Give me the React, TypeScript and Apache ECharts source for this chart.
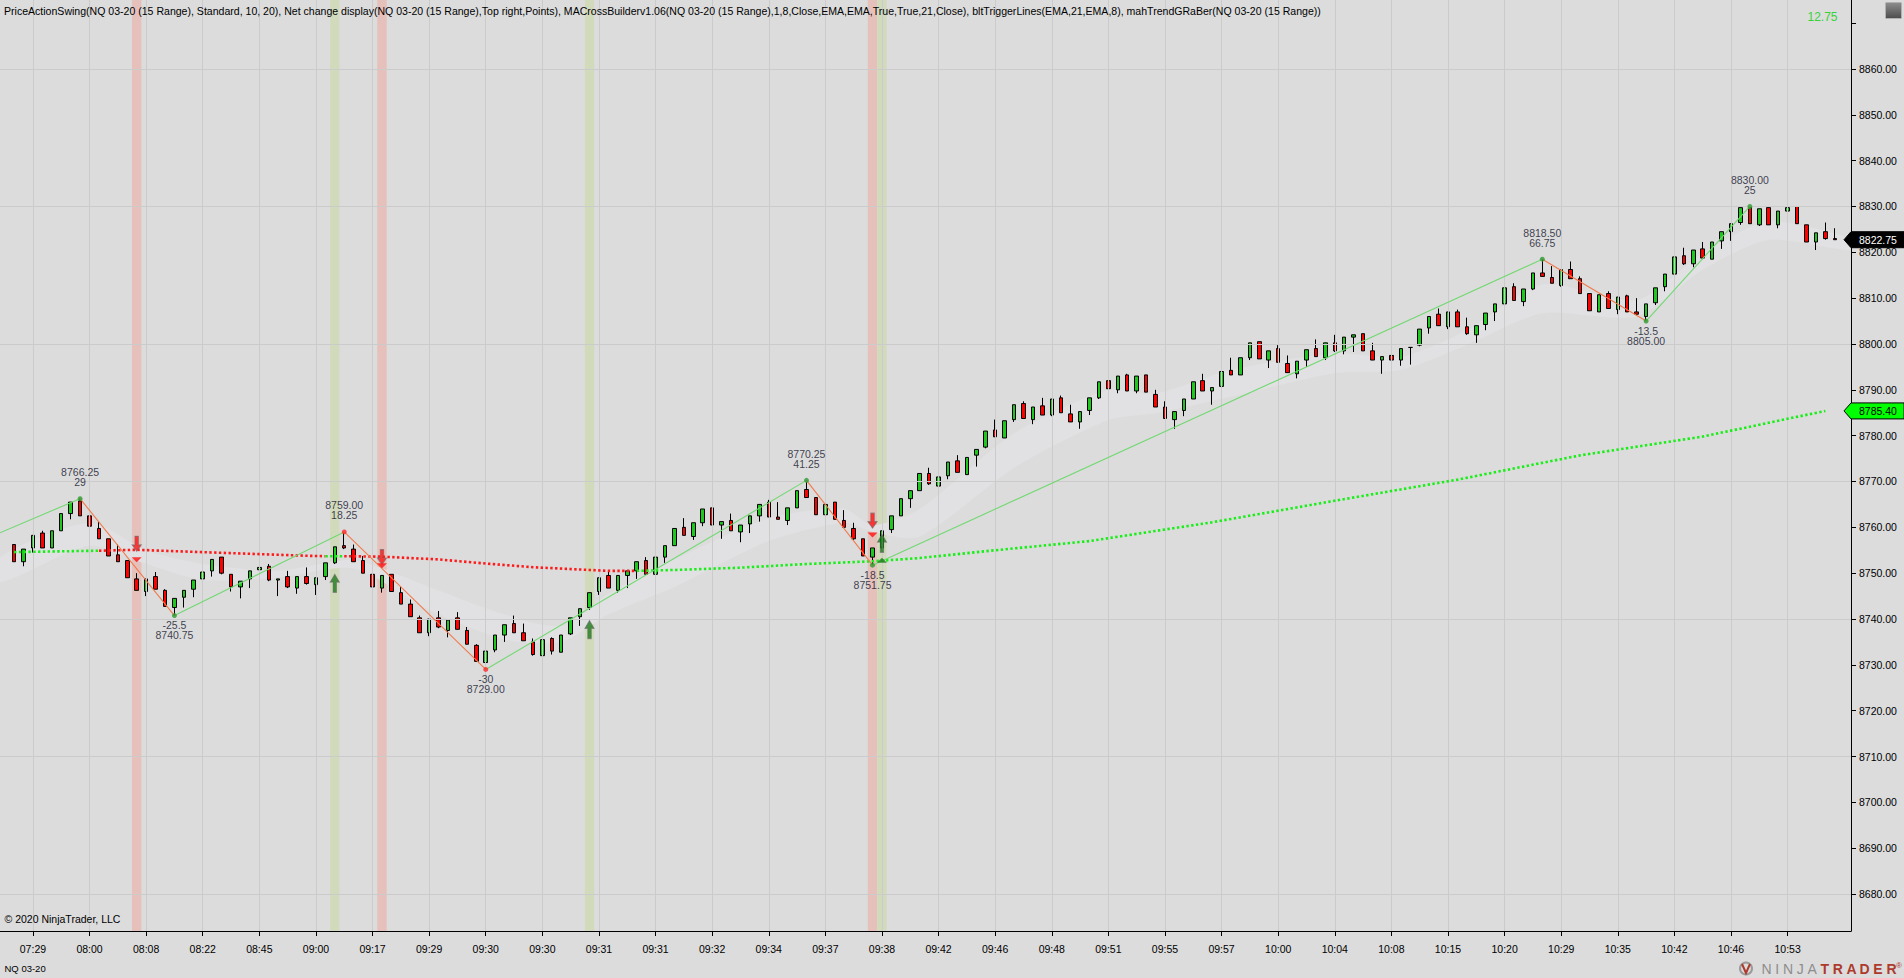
import React, { useEffect, useRef } from 'react';
import * as echarts from 'echarts';

const BG = '#dcdcdc';
const GRIDC = '#cbcbcb';
const FONT = '"Liberation Sans", Arial, Helvetica, sans-serif';

const TITLE =
  'PriceActionSwing(NQ 03-20 (15 Range), Standard, 10, 20), Net change display(NQ 03-20 (15 Range),Top right,Points), MACrossBuilderv1.06(NQ 03-20 (15 Range),1,8,Close,EMA,EMA,True,True,21,Close), bltTriggerLines(EMA,21,EMA,8), mahTrendGRaBer(NQ 03-20 (15 Range))';
const NET_CHANGE = '12.75';
const COPYRIGHT = '© 2020 NinjaTrader, LLC';
const INSTRUMENT = 'NQ 03-20';

// ---- 15-range candles (open, close, low, high) ----
const opens = [
  8756.25, 8752.5, 8755.5, 8758.75, 8755.5, 8759.25, 8763, 8765.75, 8762.5, 8759.75,
  8757.5, 8754, 8752.75, 8748.75, 8746, 8749.25, 8746.25, 8742.5, 8744.75, 8746.5,
  8748.75, 8750.5, 8753.5, 8749.75, 8747, 8748.75, 8750.75, 8751.5, 8748.5, 8749.25,
  8746.75, 8749.25, 8747.5, 8749.25, 8752.25, 8756, 8755.25, 8752.75, 8749.75, 8746.75,
  8749.75, 8745.75, 8743.25, 8740.25, 8737, 8740.25, 8737.5, 8740.25, 8737.5, 8734.25,
  8730.5, 8733.25, 8736.5, 8739, 8737, 8735, 8732, 8735.75, 8732.75, 8736.75,
  8740.5, 8742.5, 8746, 8749.5, 8746.25, 8749.5, 8750.5, 8752.75, 8749.75, 8753.5,
  8756, 8760, 8758, 8761, 8764.25, 8760.5, 8761.5, 8759, 8760.75, 8762.5,
  8765.5, 8762.25, 8761.5, 8764.25, 8768.25, 8766.5, 8762.75, 8765.5, 8761.5, 8759.75,
  8757.5, 8753.5, 8755.5, 8759.5, 8762.5, 8766.25, 8768, 8771.75, 8769, 8771.25,
  8774.5, 8771.5, 8775.75, 8777.5, 8781.25, 8779.5, 8783.5, 8787, 8783.5, 8786.5,
  8784.5, 8788.25, 8784.75, 8783, 8785.5, 8788.25, 8792, 8790, 8793.25, 8789.75,
  8793.25, 8789, 8786.25, 8783.5, 8785.5, 8788, 8792, 8789.75, 8790.75, 8794.25,
  8793.25, 8797, 8800.5, 8796.5, 8799, 8795.75, 8793.5, 8796.5, 8799, 8797,
  8800.25, 8798.5, 8801.5, 8802.25, 8798.5, 8796.5, 8797.5, 8796.5, 8799.25, 8799.75,
  8803.5, 8806.5, 8803.75, 8807, 8803.75, 8802, 8804.25, 8807, 8808.75, 8812.5,
  8809.25, 8812, 8815.5, 8814.5, 8812.75, 8816.25, 8814.25, 8811, 8807, 8811,
  8807.5, 8810.5, 8807, 8806, 8809, 8812.5, 8815.25, 8819.25, 8817.5, 8820.75,
  8818.5, 8822.5, 8824.5, 8826.5, 8830, 8826, 8829.75, 8826, 8829, 8830,
  8826, 8822.25, 8824.5, 8823,
];
const closes = [
  8752.5, 8755.25, 8758.25, 8755.5, 8759.25, 8763, 8765.5, 8762.5, 8760.25, 8757.5,
  8753.75, 8752.5, 8749, 8746.25, 8748.75, 8746.5, 8742.75, 8744.5, 8746.25, 8748.5,
  8750.25, 8753, 8750, 8747, 8748.25, 8750.5, 8751.25, 8748.5, 8748.75, 8747,
  8749.25, 8747.75, 8749, 8752.25, 8755.75, 8755.5, 8752.5, 8750, 8747, 8749.5,
  8746, 8743.25, 8740.5, 8737, 8740, 8738.25, 8739.75, 8737.75, 8734.5, 8730.75,
  8733, 8736.5, 8738.75, 8737, 8735.25, 8732.25, 8735.5, 8733, 8736.5, 8740.25,
  8742.25, 8745.75, 8749, 8746.75, 8749.5, 8750.5, 8752.5, 8749.75, 8753.5, 8756,
  8759.75, 8758.25, 8761, 8764, 8760.5, 8761.25, 8759.25, 8760.5, 8762.5, 8765,
  8762.25, 8761.75, 8764.25, 8768, 8766.5, 8762.75, 8765, 8761.75, 8760, 8757.5,
  8753.75, 8755.5, 8759.25, 8762.5, 8766.25, 8768, 8771.75, 8769.5, 8771, 8774.25,
  8772, 8775.25, 8777, 8781, 8779.75, 8783.25, 8786.75, 8783.75, 8786.25, 8784.5,
  8788, 8785, 8783, 8785.25, 8788.25, 8791.75, 8790.25, 8793, 8789.75, 8793,
  8789.5, 8786.25, 8783.75, 8785.25, 8788, 8791.75, 8789.75, 8790.5, 8794, 8793.25,
  8797, 8800.25, 8796.75, 8798.5, 8796, 8793.75, 8796.25, 8798.75, 8797.25, 8800.25,
  8798.5, 8801.5, 8802, 8798.5, 8796.5, 8797.25, 8796.5, 8799, 8799.25, 8803.25,
  8806, 8804, 8807, 8803.75, 8802.25, 8804, 8806.75, 8808.75, 8812.25, 8809.5,
  8812, 8815.5, 8814.75, 8813.25, 8816.25, 8814.25, 8811, 8807.25, 8810.75, 8807.75,
  8810.25, 8807, 8806.5, 8808.75, 8812.25, 8815.25, 8819, 8817.5, 8820.5, 8818.75,
  8822.25, 8824.5, 8826.25, 8829.75, 8826.25, 8829.5, 8826, 8829, 8829.75, 8826.25,
  8822.25, 8824.25, 8823, 8822.75,
];
const lows = [
  8752.5, 8751.5, 8754.5, 8755.5, 8755.5, 8759.25, 8761.75, 8762.5, 8760.25, 8757.5,
  8753.75, 8752.5, 8749, 8746.25, 8745, 8746.5, 8742.75, 8740.75, 8742.5, 8744.75,
  8746.5, 8749.25, 8749.75, 8746, 8744.5, 8746.75, 8747.5, 8748.25, 8745, 8746.75,
  8745.5, 8747.5, 8745.25, 8748.5, 8752, 8755.25, 8752.5, 8750, 8746.25, 8745.75,
  8746, 8743.25, 8740.5, 8737, 8736.25, 8738, 8736, 8737.75, 8734.5, 8730.75,
  8729, 8732.75, 8735, 8737, 8735.25, 8732, 8731.75, 8732.25, 8732.75, 8736.5,
  8738.5, 8742, 8745.25, 8746.75, 8745.75, 8746.75, 8748.75, 8749.75, 8749.75, 8752.25,
  8756, 8758.25, 8757.25, 8760.25, 8760.5, 8757.5, 8759.25, 8756.75, 8758.75, 8761.25,
  8762.25, 8761.75, 8760.5, 8764.25, 8766.5, 8762.75, 8761.25, 8761.75, 8760, 8757.25,
  8753.75, 8751.75, 8755.5, 8758.75, 8762.5, 8764.25, 8768, 8769.25, 8767.25, 8770.5,
  8772, 8771.5, 8773.25, 8777.25, 8779.75, 8779.5, 8783, 8783.75, 8782.5, 8784.5,
  8784.25, 8785, 8783, 8781.5, 8784.5, 8788, 8790.25, 8789.25, 8789.75, 8789.25,
  8789.5, 8786.25, 8783.75, 8781.5, 8784.25, 8788, 8789.75, 8786.75, 8790.25, 8793.25,
  8793.25, 8796.5, 8796.75, 8794.75, 8796, 8793.75, 8792.5, 8795, 8797.25, 8796.5,
  8798.25, 8797.75, 8798.25, 8798.5, 8796.5, 8793.5, 8796.5, 8795.25, 8795.5, 8799.5,
  8802.25, 8804, 8803.25, 8803.75, 8802, 8800.25, 8803, 8805, 8808.5, 8809.5,
  8808.25, 8811.75, 8814.75, 8813.25, 8812.5, 8814.25, 8811, 8807.25, 8807, 8807.75,
  8806.5, 8807, 8806.25, 8805, 8808.5, 8811.5, 8815.25, 8817.25, 8816.75, 8818.5,
  8818.5, 8820.75, 8822.5, 8826, 8826.25, 8825.75, 8826, 8825.25, 8826, 8826.25,
  8822.25, 8820.5, 8822.75, 8822.75,
];
const highs = [
  8756.25, 8755.25, 8758.25, 8759.25, 8759.25, 8763, 8765.5, 8766.25, 8764, 8761.25,
  8757.5, 8756.25, 8752.75, 8750, 8748.75, 8750.25, 8746.5, 8744.5, 8746.25, 8748.5,
  8750.25, 8753, 8753.5, 8749.75, 8748.25, 8750.5, 8751.25, 8752, 8748.75, 8750.5,
  8749.25, 8751.25, 8749, 8752.25, 8755.75, 8759, 8756.25, 8753.75, 8750, 8749.5,
  8749.75, 8747, 8744.25, 8740.75, 8740, 8741.75, 8739.75, 8741.5, 8738.25, 8734.5,
  8733, 8736.5, 8738.75, 8740.75, 8739, 8735.75, 8735.5, 8736, 8736.5, 8740.25,
  8742.25, 8745.75, 8749, 8750.5, 8749.5, 8750.5, 8752.5, 8753.5, 8753.5, 8756,
  8759.75, 8762, 8761, 8764, 8764.25, 8761.25, 8763, 8760.5, 8762.5, 8765,
  8766, 8765.5, 8764.25, 8768, 8770.25, 8766.5, 8765, 8765.5, 8763.75, 8761,
  8757.5, 8755.5, 8759.25, 8762.5, 8766.25, 8768, 8771.75, 8773, 8771, 8774.25,
  8775.75, 8775.25, 8777, 8781, 8783.5, 8783.25, 8786.75, 8787.5, 8786.25, 8788.25,
  8788, 8788.75, 8786.75, 8785.25, 8788.25, 8791.75, 8794, 8793, 8793.5, 8793,
  8793.25, 8790, 8787.5, 8785.25, 8788, 8791.75, 8793.5, 8790.5, 8794, 8797,
  8797, 8800.25, 8800.5, 8798.5, 8799.75, 8797.5, 8796.25, 8798.75, 8801, 8800.25,
  8802, 8801.5, 8802, 8802.25, 8800.25, 8797.25, 8800.25, 8799, 8799.25, 8803.25,
  8806, 8807.75, 8807, 8807.5, 8805.75, 8804, 8806.75, 8808.75, 8812.25, 8813.25,
  8812, 8815.5, 8818.5, 8817, 8816.25, 8818, 8814.75, 8811, 8810.75, 8811.5,
  8810.25, 8810.75, 8810, 8808.75, 8812.25, 8815.25, 8819, 8821, 8820.5, 8822.25,
  8822.25, 8824.5, 8826.25, 8829.75, 8830, 8829.5, 8829.75, 8829, 8829.75, 8830,
  8826, 8824.25, 8826.5, 8825.25,
];

// ---- axes ----
const timeLabels = [
  '07:29', '08:00', '08:08', '08:22', '08:45', '09:00', '09:17', '09:29', '09:30', '09:30',
  '09:31', '09:31', '09:32', '09:34', '09:37', '09:38', '09:42', '09:46', '09:48', '09:51',
  '09:55', '09:57', '10:00', '10:04', '10:08', '10:15', '10:20', '10:29', '10:35', '10:42',
  '10:46', '10:53',
];
const timeLabelBars = [
  2, 8, 14, 20, 26, 32, 38, 44, 50, 56, 62, 68, 74, 80, 86, 92, 98, 104, 110, 116,
  122, 128, 134, 140, 146, 152, 158, 164, 170, 176, 182, 188,
];
const priceTicks = [
  8680, 8690, 8700, 8710, 8720, 8730, 8740, 8750, 8760, 8770, 8780, 8790, 8800, 8810,
  8820, 8830, 8840, 8850, 8860, 8870,
];
const priceLabels = [
  8680, 8690, 8700, 8710, 8720, 8730, 8740, 8750, 8760, 8770, 8780, 8790, 8800, 8810,
  8820, 8830, 8840, 8850, 8860,
];
const gridPrices = [8680, 8710, 8740, 8770, 8800, 8830, 8860];
const X_MIN = -1.49;
const X_MAX = 194.72;
const Y_MIN = 8671.93;
const Y_MAX = 8875.05;

// ---- long moving average (dotted, colour changes) ----
const maGreen1Idx = [0, 9];
const maGreen1Val = [8754.6, 8754.9];
const maRed1Idx = [9, 13, 17, 24, 31, 33];
const maRed1Val = [8754.9, 8755.1, 8754.8, 8754.3, 8753.8, 8753.7];
const maGreen2Idx = [33, 35];
const maGreen2Val = [8753.7, 8753.7];
const maRed2Idx = [35, 39, 45, 50, 55, 61, 63, 66];
const maRed2Val = [8753.7, 8753.6, 8753.0, 8752.1, 8751.3, 8750.7, 8750.5, 8750.5];
const maGreen3Idx = [66, 70, 77, 84, 91, 96, 104, 114, 127, 140, 153, 166, 179, 192];
const maGreen3Val = [
  8750.5, 8750.7, 8751.2, 8752.0, 8752.6, 8753.3, 8755.0, 8757.0, 8761.1, 8765.8,
  8770.4, 8775.7, 8779.8, 8785.4,
];

// ---- trend cloud (light band) ----
const bandIdx = [
  -1.5, 8, 14, 20, 28, 36, 44, 52, 58, 63, 70, 80, 88, 91, 96, 106, 116, 121, 129, 140,
  147, 154, 162, 172, 179, 186, 194.7,
];
const bandLow = [
  8748, 8756, 8752, 8748.5, 8749, 8751, 8742, 8735.5, 8735, 8741, 8747, 8757, 8761,
  8759, 8758, 8773, 8783.4, 8784.9, 8788.5, 8793.6, 8794.3, 8799.8, 8806.7, 8806, 8816.2,
  8822.7, 8820.5,
];
const bandHigh = [
  8753.5, 8761, 8755, 8752, 8750.5, 8752.8, 8747, 8741, 8738.5, 8745.5, 8753, 8762, 8764,
  8760.5, 8764, 8780.5, 8790, 8789.2, 8794.3, 8798, 8797.2, 8803, 8813, 8809.6, 8819.8,
  8826.7, 8823,
];

// ---- swings ----
const swingIdx = [-1.5, 7, 17, 35, 50, 84, 91, 162, 173, 184];
const swingPrice = [8758.8, 8766.25, 8740.75, 8759, 8729, 8770.25, 8751.75, 8818.5, 8805, 8830];
const swingChange = [0, 29, -25.5, 18.25, -30, 41.25, -18.5, 66.75, -13.5, 25];
const swingDotColor = ['', 'g', 'g', 'r', 'r', 'g', 'g', 'g', 'g', 'g'];

// ---- background signal shading ----
const shadeIdx = [13, 34, 39, 61, 91, 92];
const shadeDir = ['down', 'up', 'down', 'up', 'down', 'up'];

// ---- arrows / triangles ----
const downArrowIdx = [13, 39, 91];
const downArrowPrice = [8756.4, 8753.5, 8761.45];
const upArrowIdx = [34, 61, 92];
const upArrowPrice = [8747.8, 8737.7, 8756.5];
const downTriIdx = [13, 39, 91];
const downTriPrice = [8752.9, 8751.6, 8758.35];
const upTriIdx = [92];
const upTriPrice = [8752.8];

const UP_ARROW = 'path://M5,0 L10,6 L7,6 L7,14 L3,14 L3,6 L0,6 Z';
const DOWN_ARROW = 'path://M3,0 L7,0 L7,8 L10,8 L5,14 L0,8 L3,8 Z';

function maSeries(idx: number[], val: number[], color: string) {
  return {
    type: 'line',
    data: idx.map((x, k) => [x, val[k]]),
    symbol: 'none',
    silent: true,
    z: 6,
    animation: false,
    lineStyle: { color, width: 2.6, type: [2.4, 2.4] },
  };
}

function buildOption() {
  const candleData = opens.map((o, i) => [i, o, closes[i], lows[i], highs[i]]);
  const series: any[] = [];

  // gridlines
  series.push({
    type: 'line',
    data: [],
    silent: true,
    z: 0,
    markLine: {
      silent: true,
      animation: false,
      symbol: ['none', 'none'],
      label: { show: false },
      emphasis: { disabled: true },
      lineStyle: { color: GRIDC, width: 1, type: 'solid' },
      data: [
        ...timeLabelBars.map((x) => ({ xAxis: x })),
        ...gridPrices.map((y) => ({ yAxis: y })),
      ],
    },
  });

  // trend cloud
  series.push({
    type: 'custom',
    silent: true,
    z: 1,
    clip: true,
    data: bandIdx.map((x, k) => [x, bandLow[k], bandHigh[k]]),
    encode: { x: 0, y: [1, 2] },
    renderItem: (params: any, api: any) => {
      if (params.dataIndex !== 0) return null;
      const pts: number[][] = [];
      for (let k = 0; k < bandIdx.length; k++) pts.push(api.coord([bandIdx[k], bandHigh[k]]));
      for (let k = bandIdx.length - 1; k >= 0; k--) pts.push(api.coord([bandIdx[k], bandLow[k]]));
      return {
        type: 'polygon',
        shape: { points: pts, smooth: 0.25 },
        style: { fill: '#e1e1e3' },
      };
    },
  });

  // signal shading
  series.push({
    type: 'line',
    data: [],
    silent: true,
    z: 2,
    markArea: {
      silent: true,
      animation: false,
      emphasis: { disabled: true },
      data: shadeIdx.map((i, k) => [
        {
          xAxis: i - 0.5,
          itemStyle: { color: shadeDir[k] === 'down' ? '#e6c0bb' : '#d1dbbb' },
        },
        { xAxis: i + 0.5 },
      ]),
    },
  });

  // candles
  series.push({
    type: 'candlestick',
    data: candleData,
    encode: { x: 0, y: [1, 2, 3, 4] },
    barWidth: 4,
    silent: true,
    z: 4,
    itemStyle: {
      color: '#1ec81e',
      color0: '#ff0000',
      borderColor: '#000',
      borderColor0: '#000',
      borderWidth: 1,
    },
  });

  // moving average
  series.push(maSeries(maGreen1Idx, maGreen1Val, '#19ee19'));
  series.push(maSeries(maRed1Idx, maRed1Val, '#ff1a1a'));
  series.push(maSeries(maGreen2Idx, maGreen2Val, '#19ee19'));
  series.push(maSeries(maRed2Idx, maRed2Val, '#ff1a1a'));
  series.push(maSeries(maGreen3Idx, maGreen3Val, '#19ee19'));

  // swing legs
  for (let k = 0; k < swingIdx.length - 1; k++) {
    const up = swingPrice[k + 1] > swingPrice[k];
    series.push({
      type: 'line',
      data: [
        [swingIdx[k], swingPrice[k]],
        [swingIdx[k + 1], swingPrice[k + 1]],
      ],
      symbol: 'none',
      silent: true,
      z: 7,
      lineStyle: { color: up ? '#72d872' : '#f27a4e', width: 1.1 },
    });
  }

  // swing points + labels
  const swingPts: any[] = [];
  for (let k = 1; k < swingIdx.length; k++) {
    const isHigh = swingPrice[k] > swingPrice[k - 1];
    const priceTxt = swingPrice[k].toFixed(2);
    const chTxt = String(swingChange[k]);
    swingPts.push({
      value: [swingIdx[k], swingPrice[k]],
      itemStyle: { color: swingDotColor[k] === 'g' ? '#2f9a2f' : '#ff2a2a' },
      label: {
        show: true,
        position: isHigh ? 'top' : 'bottom',
        distance: isHigh ? 9 : 2,
        formatter: isHigh ? `${priceTxt}\n${chTxt}` : `${chTxt}\n${priceTxt}`,
        color: '#10102a',
        fontSize: 10.5,
        fontFamily: FONT,
        lineHeight: 10,
        align: 'center',
      },
    });
  }
  series.push({
    type: 'scatter',
    data: swingPts,
    symbol: 'circle',
    symbolSize: 5,
    silent: true,
    z: 8,
  });

  // arrows and triangles
  const arrowBorder = { borderColor: 'rgba(105,105,105,0.8)', borderWidth: 1 };
  series.push({
    type: 'scatter',
    data: downArrowIdx.map((x, k) => [x, downArrowPrice[k]]),
    symbol: DOWN_ARROW,
    symbolSize: [9, 15],
    silent: true,
    z: 9,
    itemStyle: { color: '#ff1010', ...arrowBorder },
  });
  series.push({
    type: 'scatter',
    data: upArrowIdx.map((x, k) => [x, upArrowPrice[k]]),
    symbol: UP_ARROW,
    symbolSize: [9, 18],
    silent: true,
    z: 9,
    itemStyle: { color: '#1b7a1b', ...arrowBorder },
  });
  series.push({
    type: 'scatter',
    data: downTriIdx.map((x, k) => [x, downTriPrice[k]]),
    symbol: 'triangle',
    symbolRotate: 180,
    symbolSize: [10, 5],
    silent: true,
    z: 9,
    itemStyle: { color: '#ff1010' },
  });
  series.push({
    type: 'scatter',
    data: upTriIdx.map((x, k) => [x, upTriPrice[k]]),
    symbol: 'triangle',
    symbolSize: [10, 5],
    silent: true,
    z: 9,
    itemStyle: { color: '#1b7a1b' },
  });

  return {
    animation: false,
    backgroundColor: BG,
    textStyle: { fontFamily: FONT },
    grid: { left: 0, top: 0, right: 53, bottom: 47, containLabel: false },
    xAxis: {
      type: 'value',
      min: X_MIN,
      max: X_MAX,
      position: 'bottom',
      axisLine: { show: true, onZero: false, lineStyle: { color: '#000', width: 1 } },
      axisTick: { show: true, length: 5, customValues: timeLabelBars, lineStyle: { color: '#000' } },
      axisLabel: {
        show: true,
        customValues: timeLabelBars,
        formatter: (v: number) => {
          const k = timeLabelBars.indexOf(Math.round(v));
          return k >= 0 ? timeLabels[k] : '';
        },
        margin: 12,
        color: '#000',
        fontSize: 10.5,
        fontFamily: FONT,
      },
      splitLine: { show: false },
    },
    yAxis: {
      type: 'value',
      position: 'right',
      min: Y_MIN,
      max: Y_MAX,
      axisLine: { show: true, onZero: false, lineStyle: { color: '#000', width: 1 } },
      axisTick: { show: true, length: 5, customValues: priceTicks, lineStyle: { color: '#000' } },
      axisLabel: {
        show: true,
        customValues: priceLabels,
        formatter: (v: number) => v.toFixed(2),
        margin: 8,
        color: '#000',
        fontSize: 10.5,
        fontFamily: FONT,
      },
      splitLine: { show: false },
    },
    series,
  };
}

export default function App() {
  const ref = useRef<HTMLDivElement>(null);
  useEffect(() => {
    document.body.style.margin = '0';
    document.body.style.background = BG;
    const chart = echarts.init(ref.current as HTMLDivElement, undefined, { renderer: 'svg' });
    chart.setOption(buildOption() as any);

    const lastClose = closes[closes.length - 1];
    const lastMa = maGreen3Val[maGreen3Val.length - 1];
    const yClose = chart.convertToPixel({ yAxisIndex: 0 } as any, lastClose) as number;
    const yMa = chart.convertToPixel({ yAxisIndex: 0 } as any, lastMa) as number;

    const marker = (y: number, fill: string, stroke: string, txt: string, txtColor: string) => [
      {
        type: 'polygon',
        silent: true,
        z: 100,
        shape: {
          points: [
            [1844, y],
            [1851, y - 8],
            [1904, y - 8],
            [1904, y + 8],
            [1851, y + 8],
          ],
        },
        style: { fill, stroke, lineWidth: 1 },
      },
      {
        type: 'text',
        silent: true,
        z: 101,
        x: 1859,
        y,
        style: {
          text: txt,
          fill: txtColor,
          fontSize: 10.5,
          fontFamily: FONT,
          align: 'left',
          verticalAlign: 'middle',
          textAlign: 'left',
          textVerticalAlign: 'middle',
        },
      },
    ];

    // NinjaTrader wordmark letters
    const ctx = document.createElement('canvas').getContext('2d') as CanvasRenderingContext2D;
    const letters = 'NINJATRADER'.split('');
    const logoEls: any[] = [];
    ctx.font = `14px ${FONT}`;
    const widths = letters.map((l) => ctx.measureText(l).width);
    const totalW = widths.reduce((a, b) => a + b, 0);
    const gap = (135 - totalW) / (letters.length - 1);
    let lx = 1761.5;
    letters.forEach((l, i) => {
      logoEls.push({
        type: 'text',
        silent: true,
        x: lx,
        y: 968.5,
        style: {
          text: l,
          fill: i < 5 ? '#8d8d8d' : '#ad3a2c',
          fontSize: 14,
          fontWeight: i < 5 ? 'normal' : 'bold',
          fontFamily: FONT,
          align: 'left',
          verticalAlign: 'middle',
          textAlign: 'left',
          textVerticalAlign: 'middle',
        },
      });
      lx += widths[i] + gap;
    });

    const txt = (text: string, x: number, y: number, size: number, fill: string, align = 'left', weight = 'normal') => ({
      type: 'text',
      silent: true,
      x,
      y,
      z: 50,
      style: {
        text,
        fill,
        fontSize: size,
        fontWeight: weight,
        fontFamily: FONT,
        align,
        verticalAlign: 'middle',
        textAlign: align,
        textVerticalAlign: 'middle',
      },
    });

    chart.setOption({
      graphic: [
        txt(TITLE, 4, 11, 10.55, '#000'),
        txt(NET_CHANGE, 1822.5, 16.5, 12, '#37d237', 'center'),
        {
          type: 'rect',
          silent: true,
          z: 60,
          shape: { x: 1885.5, y: 2.5, width: 16, height: 16, r: 1 },
          style: {
            fill: new echarts.graphic.LinearGradient(0, 0, 0, 1, [
              { offset: 0, color: '#8e8e8e' },
              { offset: 1, color: '#4c4c4c' },
            ]),
            stroke: '#b0b0b0',
            lineWidth: 1,
          },
        },
        txt('F', 1893.5, 11, 14, '#ffffff', 'center'),
        txt(COPYRIGHT, 4.5, 918.5, 10.5, '#000'),
        txt(INSTRUMENT, 4.5, 968.5, 9.5, '#000'),
        {
          type: 'circle',
          silent: true,
          shape: { cx: 1746, cy: 968.5, r: 6 },
          style: { fill: 'none', stroke: '#9a9a9a', lineWidth: 2 },
        },
        {
          type: 'polyline',
          silent: true,
          shape: { points: [[1742, 964], [1746, 973], [1750, 964]] },
          style: { stroke: '#ad3a2c', lineWidth: 2, fill: 'none' },
        },
        txt('®', 1899, 965, 8, '#ad3a2c', 'center'),
        ...logoEls,
        ...marker(yMa, '#00ff00', '#000', lastMa.toFixed(2), '#000'),
        ...marker(yClose, '#000', '#000', lastClose.toFixed(2), '#fff'),
      ],
    } as any);

    return () => chart.dispose();
  }, []);
  return <div ref={ref} style={{ width: 1904, height: 978, background: BG }} />;
}
